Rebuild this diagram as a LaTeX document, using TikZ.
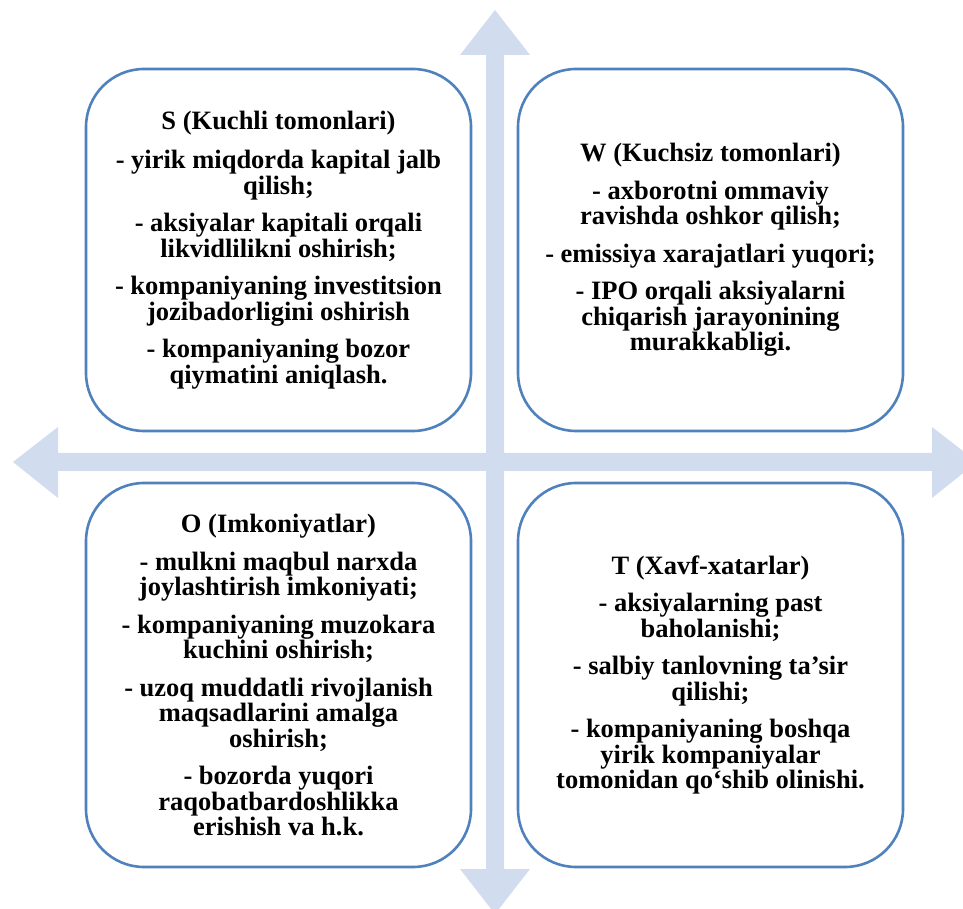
\documentclass[tikz,border=0pt]{standalone}
\usepackage{fontspec}
\setmainfont{Liberation Serif}
\usetikzlibrary{positioning}

\definecolor{boxblue}{RGB}{79,129,189}
\definecolor{crossblue}{RGB}{209,220,238}

\begin{document}
\begin{tikzpicture}[x=1pt, y=1pt,
  every node/.style = {shape=rectangle, rounded corners=58pt,
    draw=boxblue, line width=2.6pt, fill=white, align=center,
    font=\bfseries\fontsize{26.5}{25.5}\selectfont,
    minimum width=385pt},
  upper/.style = {minimum height=362pt},
  lower/.style = {minimum height=384pt}]
  \useasboundingbox (0,0) rectangle (963,908);
  \clip (0,0) rectangle (963,908);
  % the cross behind the boxes
  \fill[crossblue] (495,898) -- (530,853) -- (504,853) -- (504,39) -- (530,39)
    -- (495,-6) -- (460,39) -- (486,39) -- (486,853) -- (460,853) -- cycle;
  \fill[crossblue] (13,446) -- (58,481) -- (58,455) -- (932,455) -- (932,481)
    -- (977,446) -- (932,410) -- (932,437) -- (58,437) -- (58,410) -- cycle;
  \node[upper] (s) at (278.5,658) {S (Kuchli tomonlari)\\[14pt]
    - yirik miqdorda kapital jalb\\ qilish;\\[12pt]
    - aksiyalar kapitali orqali\\ likvidlilikni oshirish;\\[12pt]
    - kompaniyaning investitsion\\ jozibadorligini oshirish\\[12pt]
    - kompaniyaning bozor\\ qiymatini aniqlash.};
  \node[upper] (w) at (710.5,658) {W (Kuchsiz tomonlari)\\[12pt]
    - axborotni ommaviy\\ ravishda oshkor qilish;\\[12pt]
    - emissiya xarajatlari yuqori;\\[12pt]
    - IPO orqali aksiyalarni\\ chiqarish jarayonining\\ murakkabligi.};
  \node[lower] (o) at (278.5,233) {O (Imkoniyatlar)\\[12pt]
    - mulkni maqbul narxda\\ joylashtirish imkoniyati;\\[12pt]
    - kompaniyaning muzokara\\ kuchini oshirish;\\[12pt]
    - uzoq muddatli rivojlanish\\ maqsadlarini amalga\\ oshirish;\\[12pt]
    - bozorda yuqori\\ raqobatbardoshlikka\\ erishish va h.k.};
  \node[lower] (t) at (710.5,233) {T (Xavf-xatarlar)\\[12pt]
    - aksiyalarning past\\ baholanishi;\\[12pt]
    - salbiy tanlovning ta’sir\\ qilishi;\\[12pt]
    - kompaniyaning boshqa\\ yirik kompaniyalar\\ tomonidan qo‘shib olinishi.};
\end{tikzpicture}
\end{document}
